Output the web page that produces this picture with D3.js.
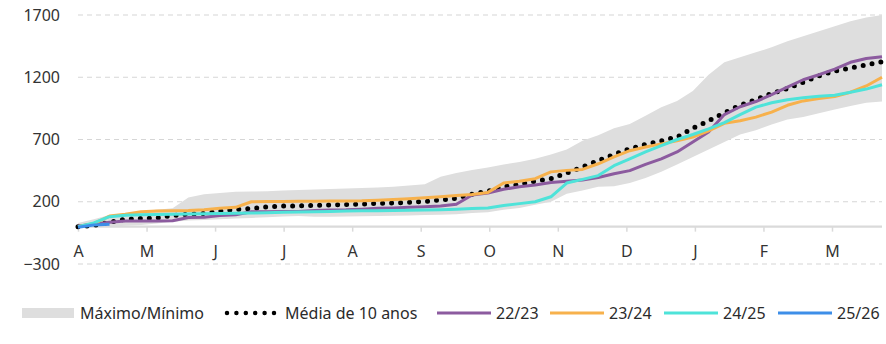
<!DOCTYPE html>
<html>
<head>
<meta charset="utf-8">
<script src="https://cdn.jsdelivr.net/npm/d3@7"></script>
<style>
  html, body { margin: 0; padding: 0; background: #fff; }
  svg { display: block; font-family: "Noto Sans", "Open Sans", sans-serif; }
</style>
</head>
<body>
<svg id="chart" width="886" height="344"></svg>
<script>
// ---- data (weekly points, April -> March) ----
const monthLabels = ["A", "M", "J", "J", "A", "S", "O", "N", "D", "J", "F", "M"];
const yTicks = [-300, 200, 700, 1200, 1700];

const bandMax = [30, 60, 93, 105, 125, 135, 147, 235, 260, 270, 280, 282, 285, 290, 294, 298, 302, 307, 310, 315, 320, 330, 340, 400, 430, 455, 475, 500, 520, 545, 580, 620, 690, 735, 790, 825, 890, 960, 1010, 1090, 1220, 1320, 1360, 1400, 1440, 1490, 1530, 1570, 1610, 1650, 1680, 1700];
const bandMin = [-10, -5, 0, 8, 13, 25, 40, 50, 53, 60, 65, 70, 75, 82, 85, 80, 80, 82, 84, 85, 87, 90, 93, 95, 100, 110, 115, 135, 150, 175, 200, 265, 290, 320, 325, 350, 390, 440, 500, 560, 620, 680, 740, 775, 820, 860, 880, 910, 940, 970, 995, 1005];
const mean10 = [0, 10, 35, 60, 65, 70, 90, 100, 105, 125, 138, 145, 160, 165, 168, 170, 174, 178, 182, 186, 190, 195, 203, 214, 228, 260, 285, 320, 340, 365, 385, 430, 480, 530, 580, 625, 660, 690, 720, 790, 850, 915, 975, 1020, 1070, 1110, 1160, 1210, 1250, 1275, 1300, 1325];
const s2223 = [5, 20, 35, 45, 45, 45, 47, 74, 76, 90, 95, 120, 120, 121, 122, 130, 133, 135, 140, 147, 150, 155, 160, 165, 180, 254, 270, 300, 320, 335, 355, 365, 375, 395, 425, 450, 500, 545, 600, 680, 760, 900, 963, 1005, 1060, 1120, 1180, 1220, 1265, 1320, 1350, 1365];
const s2324 = [0, 25, 85, 100, 120, 125, 128, 130, 135, 148, 155, 200, 202, 203, 204, 205, 206, 207, 208, 212, 218, 225, 232, 240, 250, 258, 275, 350, 365, 385, 440, 452, 460, 505, 560, 610, 640, 665, 690, 720, 770, 830, 850, 880, 920, 975, 1010, 1030, 1045, 1080, 1130, 1200];
const s2425 = [0, 30, 80, 92, 95, 98, 100, 102, 104, 106, 108, 110, 112, 115, 117, 120, 122, 125, 127, 128, 130, 132, 134, 136, 140, 145, 150, 170, 185, 200, 240, 350, 380, 410, 490, 545, 600, 650, 700, 740, 785, 835, 900, 960, 995, 1020, 1035, 1048, 1055, 1080, 1105, 1140];
const s2526 = [-5, 14, 20];

const seriesNames = ["22/23", "23/24", "24/25", "25/26"];
const seriesData = [s2223, s2324, s2425, s2526];
const seriesColors = ["#8c5b9f", "#f7b14c", "#4ee3d9", "#3d8ee8"];

// ---- layout ----
const svg = d3.select("#chart");
const plotLeft = 78, plotRight = 882, plotTop = 15, plotBottom = 264;
const nWeeks = bandMax.length;
const weeksPerMonth = 4.348;

const x = d3.scaleLinear().domain([0, nWeeks - 1]).range([plotLeft, plotRight]);
const y = d3.scaleLinear().domain([-300, 1700]).range([plotBottom, plotTop]);

// gridlines
svg.append("g").selectAll("line").data(yTicks).join("line")
  .attr("x1", plotLeft).attr("x2", plotRight)
  .attr("y1", d => y(d)).attr("y2", d => y(d))
  .attr("stroke", "#d6d6d6").attr("stroke-width", 1.2)
  .attr("stroke-dasharray", "5,4");

// y labels
const yAxis = d3.axisLeft(y).tickValues(yTicks).tickSize(0).tickPadding(0).tickFormat(d3.format("d"));
const gy = svg.append("g").attr("transform", `translate(60,0)`).call(yAxis);
gy.select(".domain").remove();
gy.selectAll("text").attr("fill", "#333").style("font-size", "16px")
  .style("font-family", "'Noto Sans', 'Open Sans', sans-serif");

// band
const area = d3.area()
  .x((d, i) => x(i))
  .y0((d, i) => y(bandMin[i]))
  .y1((d, i) => y(bandMax[i]));
svg.append("path").datum(bandMax).attr("d", area).attr("fill", "#dedede");

// x axis at zero
const xAxis = d3.axisBottom(x)
  .tickValues(monthLabels.map((m, i) => i * weeksPerMonth))
  .tickSize(5).tickPadding(14)
  .tickFormat((d, i) => monthLabels[i]);
const gx = svg.append("g").attr("transform", `translate(0,${y(0)})`).call(xAxis);
gx.select(".domain").attr("stroke", "#dadada").attr("stroke-width", 2.2)
  .attr("d", `M${plotLeft},0H${plotRight}`);
gx.selectAll(".tick line").attr("stroke", "#dadada").attr("stroke-width", 1.5);
gx.selectAll("text").attr("fill", "#333").style("font-size", "16px")
  .style("font-family", "'Noto Sans', 'Open Sans', sans-serif");

const line = d3.line().x((d, i) => x(i)).y(d => y(d));

// 10-year mean dotted (beneath the season lines)
svg.append("path").datum(mean10).attr("d", line)
  .attr("fill", "none").attr("stroke", "#000")
  .attr("stroke-width", 5).attr("stroke-linecap", "round")
  .attr("stroke-dasharray", "0,9");

// series lines
seriesData.forEach((s, k) => {
  svg.append("path").datum(s).attr("d", line)
    .attr("fill", "none").attr("stroke", seriesColors[k])
    .attr("stroke-width", 3).attr("stroke-linejoin", "round");
});

// ---- legend ----
const ly = 313;
const lg = svg.append("g").style("font-size", "16px").attr("fill", "#2b2b2b");
lg.append("rect").attr("x", 22).attr("y", ly - 5).attr("width", 52).attr("height", 10).attr("fill", "#dedede");
lg.append("text").attr("x", 80).attr("y", ly + 6).text("Máximo/Mínimo");
lg.append("line").attr("x1", 227).attr("x2", 274).attr("y1", ly).attr("y2", ly)
  .attr("stroke", "#000").attr("stroke-width", 4.5).attr("stroke-linecap", "round")
  .attr("stroke-dasharray", "0,9.4");
lg.append("text").attr("x", 285).attr("y", ly + 6).text("Média de 10 anos");
const legendX = [437, 550, 664, 778];
seriesNames.forEach((n, k) => {
  lg.append("line").attr("x1", legendX[k]).attr("x2", legendX[k] + 54)
    .attr("y1", ly).attr("y2", ly).attr("stroke", seriesColors[k]).attr("stroke-width", 3);
  lg.append("text").attr("x", legendX[k] + 59).attr("y", ly + 6).text(n);
});
</script>
</body>
</html>
